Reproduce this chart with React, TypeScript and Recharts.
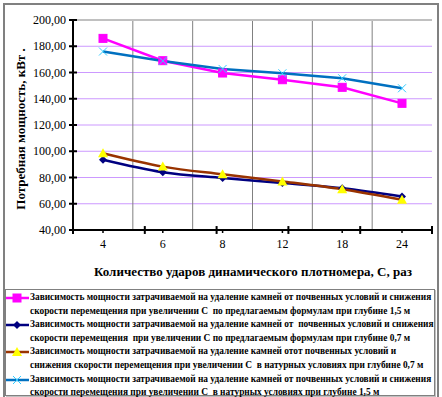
import React from "react"
import {
  LineChart,
  Line,
  XAxis,
  YAxis,
  CartesianGrid,
  ReferenceLine,
} from "recharts"

const categories = ["4", "6", "8", "12", "18", "24"]
const formula15 = [186, 169, 159.6, 154.5, 148.7, 136.5]
const formula07 = [93.5, 84, 79.6, 75.8, 71.8, 65.5]
const field07 = [98.5, 88.3, 82.4, 77, 71, 63]
const field15 = [176, 168.8, 162.7, 159.4, 155.6, 148]
const yTicks = [40, 60, 80, 100, 120, 140, 160, 180, 200]
const bandEdges = [0, 1, 2, 3, 4, 5, 6]

const series = [
  {
    key: "formula15",
    color: "#ff00ff",
    marker: "square",
    curve: "linear",
    lines: [
      "Зависимость мощности затрачиваемой на удаление камней от почвенных условий и снижения",
      "скорости перемещения при увеличении С  по предлагаемым формулам при глубине 1,5 м",
    ],
  },
  {
    key: "formula07",
    color: "#000080",
    marker: "diamond",
    curve: "monotone",
    lines: [
      "Зависимость мощности затрачиваемой на удаление камней от  почвенных условий и снижения",
      "скорости перемещения  при увеличении С по предлагаемым формулам при глубине 0,7 м",
    ],
  },
  {
    key: "field07",
    color: "#993300",
    marker: "triangle",
    curve: "monotone",
    lines: [
      "Зависимость мощности затрачиваемой на удаление камней отот почвенных условий и",
      "снижения скорости перемещения при увеличении С  в натурных условиях при глубине 0,7 м",
    ],
  },
  {
    key: "field15",
    color: "#0070c0",
    marker: "cross",
    curve: "linear",
    lines: [
      "Зависимость мощности затрачиваемой на удаление камней от почвенных условий и снижения",
      "скорости перемещения при увеличении С  в натурных условиях при глубине 1,5 м",
    ],
  },
]

const data = categories.map((c, i) => ({
  c,
  formula15: formula15[i],
  formula07: formula07[i],
  field07: field07[i],
  field15: field15[i],
}))

const serif = "'Liberation Serif', 'Times New Roman', serif"

function Marker({ type, cx, cy }: { type: string; cx: number; cy: number }) {
  if (cx == null || cy == null) return null
  if (type === "square")
    return <rect x={cx - 4} y={cy - 4} width={8} height={8} fill="#ff00ff" stroke="#ff00ff" />
  if (type === "diamond")
    return (
      <polygon
        points={`${cx},${cy - 4} ${cx + 4},${cy} ${cx},${cy + 4} ${cx - 4},${cy}`}
        fill="#000080"
      />
    )
  if (type === "triangle")
    return (
      <polygon
        points={`${cx},${cy - 5} ${cx + 5},${cy + 4} ${cx - 5},${cy + 4}`}
        fill="#ffff00"
      />
    )
  return (
    <g stroke="#33ccff" strokeWidth={1}>
      <line x1={cx - 4} y1={cy - 4} x2={cx + 4} y2={cy + 4} />
      <line x1={cx - 4} y1={cy + 4} x2={cx + 4} y2={cy - 4} />
    </g>
  )
}

function YTick(props: any) {
  const { x, y, payload } = props
  const v = Number(payload.value).toFixed(2).replace(".", ",")
  return (
    <g>
      <line x1={x + 3} x2={x + 11} y1={y} y2={y} stroke="#000" strokeWidth={2} />
      <text x={x} y={y} dy={4} textAnchor="end" fontSize={12} fontFamily={serif} fill="#000">
        {v}
      </text>
    </g>
  )
}

export default function App() {
  return (
    <div
      style={{
        position: "absolute",
        left: 0,
        top: 0,
        width: 442,
        height: 397,
        overflow: "hidden",
        background: "#fff",
        fontFamily: serif,
      }}
    >
      <div
        style={{
          position: "absolute",
          left: 3,
          top: 3,
          width: 432,
          height: 396,
          border: "2px solid #808080",
        }}
      />
      <LineChart
        width={442}
        height={397}
        data={data}
        margin={{ top: 20, right: 10, left: 0, bottom: 137 }}
        style={{ position: "absolute", left: 0, top: 0 }}
      >
        <CartesianGrid vertical={false} stroke="#cc99ff" strokeWidth={1} />
        <CartesianGrid
          horizontal={false}
          stroke="#808080"
          strokeWidth={1}
          verticalCoordinatesGenerator={({ offset }: any) =>
            [1, 2, 3, 4, 5].map((i) => offset.left + (i * offset.width) / 6)
          }
        />
        <XAxis xAxisId="grid" type="number" domain={[0, 6]} ticks={bandEdges} hide />
        <ReferenceLine xAxisId="grid" y={200} stroke="#c0c0c0" strokeWidth={2} />
        <ReferenceLine xAxisId="grid" x={6} stroke="#c0c0c0" strokeWidth={2} />
        {bandEdges.map((e) => (
          <ReferenceLine
            key={e}
            xAxisId="grid"
            ifOverflow="visible"
            segment={[
              { x: e, y: 37 },
              { x: e, y: 43 },
            ]}
            stroke="#000"
            strokeWidth={2}
          />
        ))}
        <XAxis
          dataKey="c"
          padding={{ left: 30, right: 30 }}
          height={30}
          tickSize={3}
          tickMargin={6}
          axisLine={{ stroke: "#000", strokeWidth: 2 }}
          tickLine={{ stroke: "#000", strokeWidth: 1.5 }}
          tick={{ fontSize: 12, fontFamily: serif, fill: "#000" }}
        />
        <YAxis
          domain={[40, 200]}
          ticks={yTicks}
          width={73}
          tickSize={4}
          tickMargin={3}
          tickLine={false}
          axisLine={{ stroke: "#000", strokeWidth: 2 }}
          tick={<YTick />}
          interval={0}
        />
        {series.map((s) => (
          <Line
            key={s.key}
            dataKey={s.key}
            type={s.curve as any}
            stroke={s.color}
            strokeWidth={2.5}
            dot={(p: any) => <Marker key={p.index} type={s.marker} cx={p.cx} cy={p.cy} />}
            activeDot={false}
            isAnimationActive={false}
          />
        ))}
        <text
          x={20}
          y={129}
          transform="rotate(-90 20 129)"
          textAnchor="middle"
          dominantBaseline="central"
          fontSize={13}
          fontWeight="bold"
          fontFamily={serif}
          fill="#000"
        >
          Потребная мощность, кВт .
        </text>
        <text
          x={253}
          y={271}
          textAnchor="middle"
          dominantBaseline="central"
          fontSize={13}
          fontWeight="bold"
          fontFamily={serif}
          fill="#000"
        >
          Количество ударов динамического плотномера, С, раз
        </text>
      </LineChart>
      <div
        style={{
          position: "absolute",
          left: 5,
          top: 289,
          width: 430,
          height: 107,
          border: "1px solid #808080",
          boxShadow: "1px 1px 0 #c0c0c0",
          fontSize: 9.4,
          fontWeight: "bold",
          lineHeight: "13.6px",
          color: "#000",
          paddingTop: 1,
          boxSizing: "border-box",
        }}
      >
        {series.map((s) => (
          <div key={s.key} style={{ position: "relative", paddingLeft: 24, whiteSpace: "pre" }}>
            <svg width={24} height={12} style={{ position: "absolute", left: 0, top: 1 }}>
              <line x1={0} x2={23} y1={6} y2={6} stroke={s.color} strokeWidth={2.5} />
              <Marker type={s.marker} cx={11} cy={6} />
            </svg>
            <div>{s.lines[0]}</div>
            <div>{s.lines[1]}</div>
          </div>
        ))}
      </div>
    </div>
  )
}
